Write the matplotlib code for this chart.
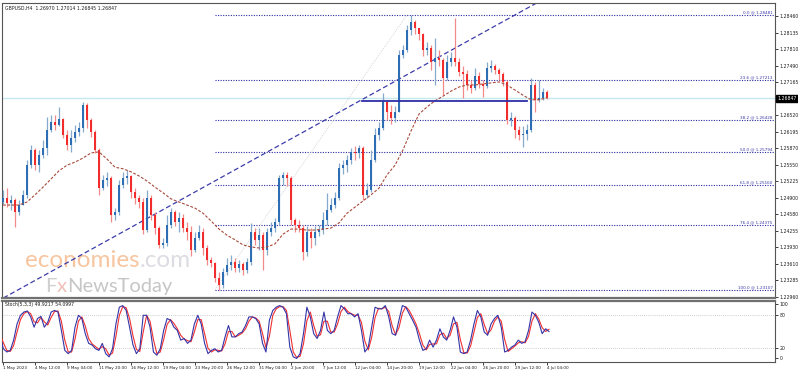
import numpy as np
import matplotlib
matplotlib.use("Agg")
import matplotlib.pyplot as plt
import matplotlib.transforms as mtransforms

# ---------------- data ----------------
header_text = "GBPUSD,H4  1.26970 1.27014 1.26845 1.26847"
stoch_text = "Stoch(5,3,3) 49.9217 54.0997"

first_open = 1.2482
closes = [1.2490, 1.2480, 1.2486, 1.2462, 1.2476, 1.2496, 1.2554, 1.2584, 1.2554, 1.2574,
          1.2588, 1.2623, 1.2639, 1.2633, 1.2644, 1.2613, 1.2594, 1.2607, 1.2619, 1.2627,
          1.2672, 1.2643, 1.2619, 1.2584, 1.2509, 1.2525, 1.2529, 1.2457, 1.2462, 1.2515,
          1.2529, 1.2533, 1.2502, 1.2490, 1.2482, 1.2427, 1.2490, 1.2457, 1.2431, 1.2398,
          1.2402, 1.2437, 1.2462, 1.2443, 1.2451, 1.2431, 1.2423, 1.2388, 1.2412, 1.2423,
          1.2392, 1.2369, 1.2363, 1.2333, 1.2320, 1.2345, 1.2359, 1.2365, 1.2353, 1.2361,
          1.2349, 1.2365, 1.2423, 1.2408, 1.2417, 1.2388, 1.2423, 1.2431, 1.2443, 1.2529,
          1.2535, 1.2529, 1.2447, 1.2437, 1.2431, 1.2384, 1.2423, 1.2412, 1.2423, 1.2427,
          1.2447, 1.2466, 1.2476, 1.2490, 1.2549, 1.2554, 1.2564, 1.2580, 1.2578, 1.2588,
          1.2496, 1.2506, 1.2564, 1.2613, 1.2627, 1.2678, 1.2658, 1.2646, 1.2658, 1.2770,
          1.2780, 1.2819, 1.2834, 1.2823, 1.2811, 1.2780, 1.2783, 1.2756, 1.2764, 1.2760,
          1.2725, 1.2756, 1.2764, 1.2756, 1.2736, 1.2733, 1.2711, 1.2705, 1.2729, 1.2713,
          1.2709, 1.2744, 1.2748, 1.2740, 1.2733, 1.2717, 1.2643, 1.2646, 1.2623, 1.2613,
          1.2615, 1.2623, 1.2711, 1.2682, 1.2686, 1.2697, 1.26847]
highs = [1.2506, 1.2509, 1.2496, 1.2490, 1.2486, 1.2506, 1.2564, 1.2594, 1.2588, 1.2584,
         1.2603, 1.2648, 1.2652, 1.2652, 1.2668, 1.2646, 1.2623, 1.2623, 1.2633, 1.2639,
         1.2678, 1.2676, 1.2646, 1.2623, 1.2588, 1.2535, 1.2541, 1.2533, 1.2470, 1.2525,
         1.2541, 1.2545, 1.2535, 1.2509, 1.2496, 1.2490, 1.2506, 1.2496, 1.2462, 1.2435,
         1.2412, 1.2457, 1.2470, 1.2466, 1.2462, 1.2459, 1.2443, 1.2435, 1.2423, 1.2437,
         1.2431, 1.2398, 1.2374, 1.2365, 1.2345, 1.2353, 1.2372, 1.2378, 1.2372, 1.2369,
         1.2365, 1.2372, 1.2441, 1.2431, 1.2431, 1.2423, 1.2431, 1.2443, 1.2451, 1.2535,
         1.2541, 1.2541, 1.2533, 1.2451, 1.2447, 1.2437, 1.2435, 1.2431, 1.2435, 1.2437,
         1.2462, 1.2500, 1.2490, 1.2502, 1.2558, 1.2564, 1.2574, 1.2588, 1.2592, 1.2594,
         1.2592, 1.2519, 1.2584, 1.2627, 1.2639, 1.2695, 1.2682, 1.2672, 1.2670, 1.2780,
         1.2789, 1.2828, 1.28481, 1.2838, 1.2823, 1.2813, 1.2795, 1.2789, 1.2803, 1.2780,
         1.2764, 1.2770, 1.2776, 1.2842, 1.2764, 1.2748, 1.2740, 1.2721, 1.2744, 1.2736,
         1.2721, 1.2756, 1.2760, 1.2752, 1.2744, 1.2736, 1.2721, 1.2658, 1.2650, 1.2631,
         1.2631, 1.2635, 1.2725, 1.2717, 1.2721, 1.2705, 1.27014]
lows = [1.2478, 1.2472, 1.2466, 1.2433, 1.2457, 1.2476, 1.2490, 1.2549, 1.2545, 1.2541,
        1.2568, 1.2574, 1.2619, 1.2623, 1.2631, 1.2607, 1.2584, 1.2580, 1.2599, 1.2611,
        1.2619, 1.2627, 1.2609, 1.2578, 1.2496, 1.2506, 1.2513, 1.2443, 1.2447, 1.2457,
        1.2509, 1.2517, 1.2490, 1.2478, 1.2470, 1.2419, 1.2423, 1.2447, 1.2419, 1.2392,
        1.2392, 1.2396, 1.2431, 1.2435, 1.2423, 1.2423, 1.2408, 1.2376, 1.2384, 1.2408,
        1.2378, 1.2359, 1.2355, 1.2325, 1.23107, 1.2314, 1.2339, 1.2349, 1.2345, 1.2345,
        1.2339, 1.2343, 1.2359, 1.2398, 1.2388, 1.2349, 1.2378, 1.2415, 1.2423, 1.2437,
        1.2515, 1.2513, 1.2437, 1.2423, 1.2423, 1.2369, 1.2376, 1.2392, 1.2398, 1.2415,
        1.2419, 1.2437, 1.2462, 1.2470, 1.2486, 1.2537, 1.2541, 1.2556, 1.2564, 1.2568,
        1.2486, 1.2490, 1.2502, 1.2560, 1.2603, 1.2623, 1.2643, 1.2635, 1.2639, 1.2662,
        1.2764, 1.2776, 1.2809, 1.2811, 1.2799, 1.2768, 1.2770, 1.2740, 1.2711, 1.2748,
        1.2691, 1.2721, 1.2748, 1.2748, 1.2729, 1.2686, 1.2701, 1.2695, 1.2701, 1.2705,
        1.2688, 1.2705, 1.2736, 1.2733, 1.2721, 1.2709, 1.2635, 1.2631, 1.2607, 1.2603,
        1.2590, 1.2603, 1.2619, 1.2658, 1.2678, 1.2682, 1.26845]

# moving average, one value per two candles
ma_values = [1.2476, 1.2476, 1.2476, 1.2482, 1.2496, 1.2511, 1.2527, 1.2543, 1.2554, 1.2560,
             1.2568, 1.2578, 1.2580, 1.2566, 1.2550, 1.2547, 1.2541, 1.2533, 1.2523, 1.2511,
             1.2500, 1.2488, 1.2482, 1.2476, 1.2470, 1.2460, 1.2445, 1.2429, 1.2417, 1.2408,
             1.2398, 1.2394, 1.2392, 1.2394, 1.2400, 1.2419, 1.2429, 1.2429, 1.2427, 1.2427,
             1.2429, 1.2431, 1.2441, 1.2460, 1.2472, 1.2484, 1.2496, 1.2509, 1.2535, 1.2554,
             1.2584, 1.2621, 1.2654, 1.2668, 1.2680, 1.2689, 1.2699, 1.2707, 1.2711, 1.2711,
             1.2713, 1.2715, 1.2717, 1.2711, 1.2701, 1.2691, 1.2682, 1.2682, 1.2686]

stoch_main = [40, 18, 12, 15, 34, 64, 80, 86, 88, 77,
              58, 74, 78, 58, 67, 86, 89, 86, 52, 15,
              9, 15, 58, 80, 74, 46, 28, 25, 18, 15,
              28, 9, 3, 18, 64, 95, 98, 89, 58, 25,
              9, 18, 80, 80, 58, 12, 6, 18, 52, 74,
              71, 58, 52, 34, 37, 28, 34, 64, 80, 64,
              28, 9, 15, 18, 12, 15, 40, 61, 40, 40,
              46, 49, 61, 77, 77, 74, 64, 28, 12, 71,
              89, 95, 98, 95, 83, 21, 3, 0, 9, 46,
              95, 77, 46, 37, 52, 86, 52, 46, 52, 77,
              98, 92, 83, 83, 77, 83, 52, 12, 21, 58,
              95, 92, 92, 98, 77, 46, 43, 71, 98,
              95, 83, 71, 58, 34, 15, 18, 34, 21, 34,
              55, 40, 34, 52, 77, 58, 12, 9, 12, 34,
              64, 89, 77, 49, 43, 64, 74, 80, 58, 12,
              15, 21, 25, 34, 28, 31, 52, 86, 80, 67,
              46, 55, 49.92]
stoch_signal = [45, 29, 15, 13, 24, 49, 72, 83, 87, 83,
                68, 66, 76, 68, 62, 76, 87, 88, 69, 34,
                12, 12, 36, 69, 77, 60, 37, 27, 22, 17,
                22, 18, 6, 10, 41, 80, 96, 94, 74, 42,
                17, 13, 49, 80, 69, 35, 9, 12, 35, 63,
                72, 65, 55, 43, 36, 33, 31, 49, 72, 72,
                46, 19, 12, 16, 15, 14, 27, 50, 50, 40,
                43, 47, 55, 69, 77, 75, 69, 46, 20, 41,
                80, 92, 96, 96, 89, 52, 12, 2, 4, 27,
                70, 86, 61, 41, 44, 69, 69, 49, 49, 64,
                87, 95, 87, 83, 80, 80, 67, 32, 16, 39,
                76, 93, 92, 95, 87, 61, 44, 57, 84,
                96, 89, 77, 64, 46, 25, 16, 26, 27, 27,
                44, 47, 37, 43, 64, 67, 35, 11, 10, 23,
                49, 76, 83, 63, 46, 53, 69, 77, 69, 35,
                13, 18, 23, 29, 31, 29, 41, 69, 83, 73,
                57, 50, 54.10]

fib_levels = [0.0, 23.6, 38.2, 50.0, 61.8, 76.4, 100.0]
price_ticks = [1.28460, 1.28135, 1.27810, 1.27490, 1.27165, 1.26520, 1.26195, 1.25870,
               1.25550, 1.25225, 1.24900, 1.24580, 1.24255, 1.23930, 1.23610, 1.23285, 1.22960]
last_price = 1.26847
level_line_price = 1.2680
level_line_span = [89.75, 131.0]
trend_times = [49.25, 132.5]
trend_prices = [1.2507, 1.28675]
date_labels = ["1 May 2023", "4 May 12:00", "9 May 04:00", "11 May 20:00", "16 May 12:00",
               "19 May 04:00", "23 May 20:00", "26 May 12:00", "31 May 04:00", "2 Jun 20:00",
               "7 Jun 12:00", "12 Jun 04:00", "14 Jun 20:00", "19 Jun 12:00", "22 Jun 04:00",
               "26 Jun 20:00", "29 Jun 12:00", "4 Jul 04:00"]
stoch_ticks = [0, 20, 80, 100]

# ---------------- figure ----------------
W, H = 798, 372
fig = plt.figure(figsize=(W / 100, H / 100), dpi=100)
fig.patch.set_facecolor("white")
SMALL = 3.3
DATE = 3.0
TXT = "#1e1e1e"

def box(l, t, r, b):
    return [l / W, (H - b) / H, (r - l) / W, (b - t) / H]

ax = fig.add_axes(box(1.5, 3, 775, 298))
axs = fig.add_axes(box(1.5, 300.5, 775, 361.5))

N = len(closes)
x = np.arange(N)
c = np.array(closes)
o = np.concatenate([[first_open], c[:-1]])
h = np.array(highs)
l = np.array(lows)

bull = c >= o
bull_body, bull_wick = "#2c6db4", "#86a9cc"
bear_body, bear_wick = "#f22c2c", "#f38a8a"

top = np.maximum(h, np.maximum(o, c))
bot = np.minimum(l, np.minimum(o, c))
ax.vlines(x[bull], bot[bull], top[bull], color=bull_wick, lw=0.9, zorder=3)
ax.vlines(x[~bull], bot[~bull], top[~bull], color=bear_wick, lw=0.9, zorder=3)
body_lo = np.minimum(o, c)
body_h = np.maximum(np.abs(c - o), 0.00006)
ax.bar(x[bull], body_h[bull], bottom=body_lo[bull], width=0.55, color=bull_body, lw=0, zorder=4)
ax.bar(x[~bull], body_h[~bull], bottom=body_lo[~bull], width=0.55, color=bear_body, lw=0, zorder=4)

# moving average
ma_x = np.arange(0, N, 2)[:len(ma_values)]
ax.plot(ma_x, ma_values, color="#a84a3c", lw=0.8, ls=(0, (2.5, 1.5)), zorder=5)

xlim = (-0.375, 193.0)
ax.set_xlim(*xlim)
ax.set_ylim(1.22941, 1.28714)

# current price line
ax.axhline(last_price, color="#c6e9ee", lw=1.0, zorder=1)

# fibonacci
i_lo = int(np.argmin(l))
i_hi = int(np.argmax(h))
fib_lo, fib_hi = l[i_lo], h[i_hi]
fib_col = "#2a2aa0"
trans = mtransforms.blended_transform_factory(ax.transAxes, ax.transData)
for lev in fib_levels:
    p = fib_hi - (fib_hi - fib_lo) * lev / 100.0
    ax.plot([i_lo - 1, xlim[1]], [p, p], color=fib_col, lw=0.8, ls=(0, (1, 1.3)), zorder=2)
    ax.text(0.997, p + 0.00008, f"{lev:.1f} @ {p:.5f}", transform=trans, ha="right", va="bottom",
            fontsize=3.0, color="#3a3aa8", zorder=6)
ax.plot([i_lo - 1, i_hi - 1], [fib_lo, fib_hi], color="#c8c8c8", lw=0.6, ls=(0, (1, 1.5)), zorder=2)

# trend line
ax.axline((trend_times[0], trend_prices[0]), (trend_times[1], trend_prices[1]),
          color="#3c3caa", lw=0.9, ls=(0, (4, 2.2)), zorder=2)

# user horizontal line
ax.plot(level_line_span, [level_line_price, level_line_price], color="#2e2ea6", lw=1.3, zorder=6)

# watermark
wm1 = ax.text(0.031, 0.105, "economies", transform=ax.transAxes, fontsize=17.5, color="#f7c6a0",
              family="Lato", ha="left", va="baseline", zorder=1)
ax.annotate(".com", xy=(1, 0), xycoords=wm1, fontsize=17.5, color="#dcdce2",
            family="Lato", ha="left", va="bottom", zorder=1)
wm2 = ax.text(0.057, 0.022, "F", transform=ax.transAxes, fontsize=14.5, color="#cfcfcf",
              family="Lato", ha="left", va="baseline", zorder=1)
wm3 = ax.annotate("x", xy=(1, 0), xycoords=wm2, fontsize=14.5, color="#f0c0b8",
                  family="Lato", ha="left", va="bottom", zorder=1)
ax.annotate("NewsToday", xy=(1, 0), xycoords=wm3, fontsize=14.5, color="#c6c6c6",
            family="Lato", ha="left", va="bottom", zorder=1)

# header
ax.text(0.005, 0.992, header_text, transform=ax.transAxes, fontsize=SMALL, color=TXT,
        ha="left", va="top")

# price axis
ax.yaxis.tick_right()
ax.set_yticks(price_ticks)
ax.set_yticklabels([f"{t:.5f}" for t in price_ticks])
ax.tick_params(axis="y", length=2, width=0.6, pad=1.2, labelsize=SMALL, colors=TXT)
ax.set_xticks([])
ax.text(1.0028, last_price, f"{last_price:.5f}", transform=trans, fontsize=SMALL, color="white",
        ha="left", va="center", bbox=dict(boxstyle="square,pad=0.3", fc="black", ec="black"))

for sp in ax.spines.values():
    sp.set_color("#555555")
    sp.set_linewidth(0.8)
ax.spines["bottom"].set_linewidth(1.6)
ax.spines["bottom"].set_color("#707070")

# ---------------- stochastic ----------------
sx = np.linspace(-0.75, N - 0.5, len(stoch_main))
axs.plot(sx, stoch_signal, color="#f03030", lw=0.8, zorder=3)
axs.plot(sx, stoch_main, color="#3434a8", lw=0.8, zorder=4)
for lev in (20, 80):
    axs.axhline(lev, color="#bdbdbd", lw=0.6, ls=(0, (1, 1.5)), zorder=1)
axs.set_xlim(*xlim)
axs.set_ylim(-5.6, 107.4)
axs.yaxis.tick_right()
axs.set_yticks(stoch_ticks)
axs.set_yticklabels([str(t) for t in stoch_ticks])
axs.tick_params(axis="y", length=2, width=0.6, pad=1.2, labelsize=SMALL, colors=TXT)
date_pos = np.arange(0, N, 8)[:len(date_labels)]
axs.set_xticks(date_pos)
axs.set_xticklabels([])
axs.tick_params(axis="x", length=2, width=0.6, direction="out", colors=TXT)
dtrans = mtransforms.blended_transform_factory(axs.transData, axs.transAxes)
for xp, lab in zip(date_pos, date_labels):
    axs.text(xp + 0.1, -0.07, lab, transform=dtrans, fontsize=DATE, color=TXT, ha="left", va="top")
axs.text(0.005, 0.97, stoch_text, transform=axs.transAxes, fontsize=SMALL, color=TXT,
         ha="left", va="top")
for sp in axs.spines.values():
    sp.set_color("#555555")
    sp.set_linewidth(0.8)
axs.spines["top"].set_linewidth(1.6)
axs.spines["top"].set_color("#707070")

fig.savefig("out.png", dpi=100, facecolor="white")
